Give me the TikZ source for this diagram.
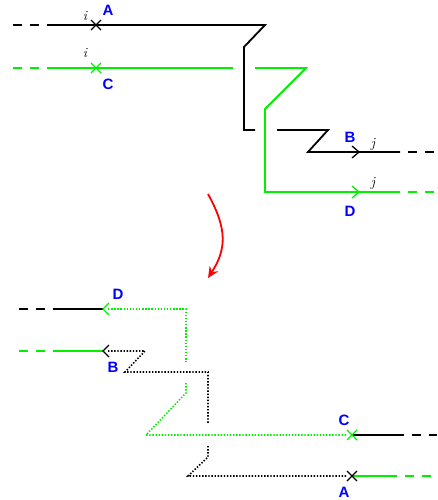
\documentclass[tikz,border=0pt]{standalone}
\usepackage{fontspec}
\newfontfamily\lab{Liberation Sans}
\usetikzlibrary{arrows.meta,calc}
\definecolor{gr}{RGB}{0,240,0}
\tikzset{
  ln/.style={line width=1.8pt},
  dsh/.style={line width=1.8pt, dash pattern=on 9pt off 8pt},
  dsr/.style={line width=1.8pt, dash pattern=on 9pt off 8pt, dash phase=9pt},
  dot/.style={line width=1.6pt, dash pattern=on 1.4pt off 1.7pt},
  tip/.style={line width=1.3pt},
  lbl/.style={font=\lab\bfseries\fontsize{15}{15}\selectfont, text=blue, inner sep=0pt},
  idx/.style={font=\itshape\fontsize{14}{14}\selectfont, inner sep=0pt},
}
\newcommand{\xmark}[2]{\draw[line width=1.1pt,#1] ($(#2)+(-5,-5)$) -- ($(#2)+(5,5)$) ($(#2)+(-5,5)$) -- ($(#2)+(5,-5)$);}
\begin{document}
\begin{tikzpicture}[x=1pt,y=-1pt]
\useasboundingbox (0,0) rectangle (437,500);
% ---------- top ----------
\coordinate (A) at (96,25);
\coordinate (C) at (96,68);
\coordinate (B) at (359,152);
\coordinate (D) at (359,192);
% black strand
\draw[dsh,black] (13,25) -- (46,25);
\draw[ln,black] (47,25) -- (265,25) -- (244,47) -- (244,130) -- (255,130);
\draw[ln,black] (277,130) -- (328,130) -- (308,152) -- (400,152);
\draw[dsr,black] (400,152) -- (437,152);
% green strand
\draw[dsh,gr] (13,68) -- (46,68);
\draw[ln,gr] (47,68) -- (233,68);
\draw[ln,gr] (255,68) -- (306,68) -- (265,109) -- (265,192) -- (400,192);
\draw[dsr,gr] (400,192) -- (437,192);
% marks
\xmark{black}{A}
\xmark{gr}{C}
\draw[tip,black] ($(B)+(-7,-6)$) -- (B) -- ($(B)+(-7,6)$);
\draw[tip,gr] ($(D)+(-7,-6)$) -- (D) -- ($(D)+(-7,6)$);
\node[lbl] (lA) at (108,10) {A};
\node[idx] (iA) at (85,16) {i};
\node[lbl] (lC) at (108,84) {C};
\node[idx] (iC) at (85,53) {i};
\node[lbl] (lB) at (350,137) {B};
\node[idx] (jB) at (373,144) {j};
\node[lbl] (lD) at (350,211) {D};
\node[idx] (jD) at (373,183) {j};
% ---------- red arrow ----------
\coordinate (r1) at (208,194);
\coordinate (r2) at (208,278);
\draw[line width=1.8pt, red, -{Stealth[length=11pt,width=10pt]}] (r1) .. controls (228,230) and (226,250) .. (r2);
% ---------- bottom ----------
\coordinate (D2) at (103,309);
\coordinate (B2) at (103,351);
\coordinate (C2) at (352,435);
\coordinate (A2) at (352,476);
% left stubs
\draw[dsh,black] (19,309) -- (52,309);
\draw[ln,black] (53,309) -- (103,309);
\draw[dsh,gr] (19,351) -- (52,351);
\draw[ln,gr] (53,351) -- (103,351);
% green dotted
\draw[dot,gr] (108,309) -- (186,309) -- (186,362);
\draw[dot,gr] (186,383) -- (186,393) -- (146,435) -- (347,435);
% black dotted
\draw[dot,black] (108,351) -- (145,351) -- (125,372) -- (208,372) -- (208,424);
\draw[dot,black] (208,446) -- (208,457) -- (188,476) -- (347,476);
% right stubs
\draw[ln,black] (352,435) -- (404,435);
\draw[dsr,black] (404,435) -- (437,435);
\draw[ln,gr] (352,476) -- (397,476);
\draw[dsr,gr] (397,476) -- (437,476);
% marks
\draw[tip,gr] ($(D2)+(6,-6)$) -- (D2) -- ($(D2)+(6,6)$);
\draw[tip,black] ($(B2)+(6,-6)$) -- (B2) -- ($(B2)+(6,6)$);
\xmark{gr}{C2}
\xmark{black}{A2}
\node[lbl] (lD2) at (118,294) {D};
\node[lbl] (lB2) at (113,367) {B};
\node[lbl] (lC2) at (344,420) {C};
\node[lbl] (lA2) at (344,492) {A};
\end{tikzpicture}
\end{document}
